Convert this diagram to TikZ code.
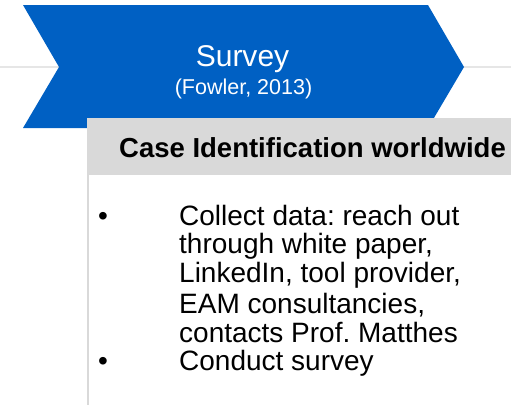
\documentclass[tikz,border=0pt]{standalone}
\usepackage{fontspec}
\setmainfont{Liberation Sans}
\frenchspacing
\definecolor{chevblue}{HTML}{0060C3}
\definecolor{hdrgray}{HTML}{D9D9D9}
\definecolor{linegray}{HTML}{E6E6E6}
\tikzset{
  txt/.style={inner sep=0pt, anchor=base west, text=black},
  bodytxt/.style={txt, font=\fontsize{28bp}{28bp}\selectfont},
}
\begin{document}
\begin{tikzpicture}[x=1bp,y=-1bp]
\useasboundingbox (0,0) rectangle (511,405);
\fill[white] (0,0) rectangle (511,405);
% timeline
\coordinate (tl) at (0,67);
\coordinate (tr) at (511,67);
\draw[linegray, line width=2bp] (tl) -- (tr);
% chevron
\fill[chevblue] (23,5) -- (428,5) -- (464,67) -- (428,128) -- (23,128) -- (59,67) -- cycle;
\node[inner sep=0pt, anchor=base, text=white, font=\fontsize{30bp}{30bp}\selectfont] (survey) at (242.5,66) {Survey};
\node[inner sep=0pt, anchor=base, text=white, font=\fontsize{21.5bp}{21.5bp}\selectfont] (fowler) at (243.5,94) {(Fowler, 2013)};
% body box
\fill[white] (87,175) rectangle (511,405);
\draw[hdrgray, line width=2bp] (88,175) -- (88,405);
% header
\fill[hdrgray] (87,118) rectangle (511,175);
\node[txt, font=\bfseries\fontsize{27.5bp}{27.5bp}\selectfont] (hdr) at (119,157) {Case Identification worldwide};
% bullets
\node[inner sep=0pt, anchor=base, font=\fontsize{28bp}{28bp}\selectfont] (b1) at (103,225) {•};
\node[inner sep=0pt, anchor=base, font=\fontsize{28bp}{28bp}\selectfont] (b2) at (103,370) {•};
\node[bodytxt] (l1) at (179,225) {Collect data: reach out};
\node[bodytxt] (l2) at (179,253) {through white paper,};
\node[bodytxt] (l3) at (179,282) {LinkedIn, tool provider,};
\node[bodytxt] (l4) at (179,313) {EAM consultancies,};
\node[bodytxt] (l5) at (179,342) {contacts Prof. Matthes};
\node[bodytxt] (l6) at (179,370) {Conduct survey};
\end{tikzpicture}
\end{document}
